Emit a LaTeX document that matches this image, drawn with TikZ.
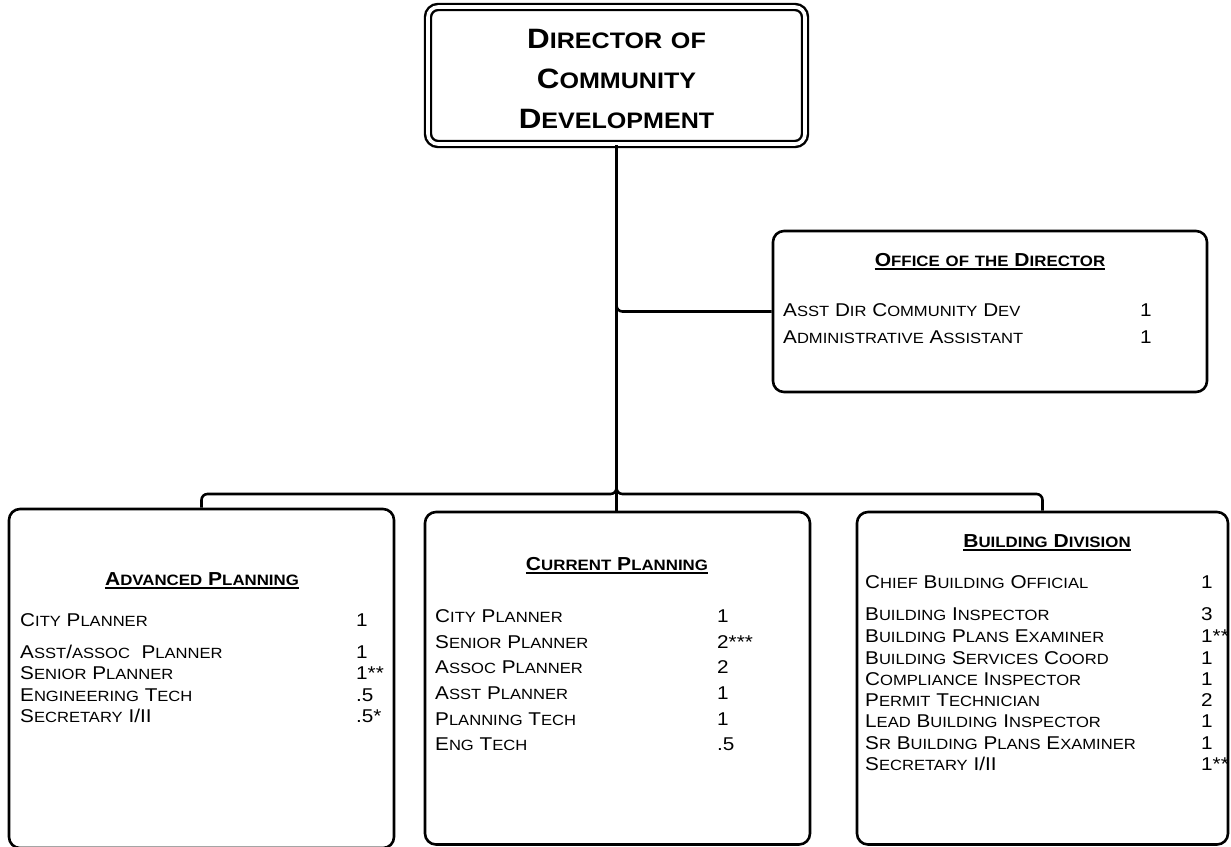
\documentclass[tikz,border=0pt]{standalone}
\usepackage{fontspec}
\setmainfont{Liberation Sans}[FakeStretch=1.12]
\usetikzlibrary{calc}

% Fake small capitals: capitals stay full size, lower-case letters are
% set as capitals at 80% of the current size.
\makeatletter
\newcommand\scsize{\fontsize{\the\dimexpr\f@size pt*4/5\relax}{\f@baselineskip}\selectfont}
\newcommand\scx[1]{\scx@word#1 \@nil}
\def\scx@word#1 #2\@nil{\scx@chars#1\scx@end\ifx\relax#2\relax\else\space\scx@word#2\@nil\fi}
\def\scx@chars#1{\ifx#1\scx@end\else\scx@one#1\expandafter\scx@chars\fi}
\def\scx@one#1{\ifnum\lccode`#1=`#1\relax{\scsize\uppercase{#1}}\else#1\fi}
\def\scx@end{\scx@end}
\makeatother

\newcommand\bodyfont{\fontsize{18.5}{21}\selectfont}
\newcommand\headfont{\fontsize{18.8}{21}\selectfont\bfseries}
\newcommand\titlefont{\fontsize{28}{40}\selectfont\bfseries}

\begin{document}
\begin{tikzpicture}[x=1pt,y=-1pt,
  conn/.style={line width=2.6pt, rounded corners=6pt},
  box/.style={draw, line width=2.6pt, rounded corners=11pt, inner sep=0pt},
  dbox/.style={draw, double, double distance=3.6pt, line width=2.4pt, rounded corners=10pt, inner sep=0pt},
  txt/.style={anchor=base west, inner sep=0pt, font=\bodyfont},
  head/.style={anchor=base, inner sep=0pt, font=\headfont},
  title/.style={anchor=base, inner sep=0pt, font=\titlefont},
  uline/.style={line width=1.3pt},
]
\useasboundingbox (0,0) rectangle (1231,846);

% ---- director ----
\node[title] (t1) at (616.5,48.3) {\scx{Director of}};
\node[title] (t2) at (616.5,88.3) {\scx{Community}};
\node[title] (t3) at (616.5,128.3) {\scx{Development}};

% ---- office of the director ----
\node[head] (oh) at (990,266) {\scx{Office of the Director}};
\draw[uline] ([yshift=-3pt]oh.base west) -- ([yshift=-3pt]oh.base east);
\node[txt] (o1) at (783,316.5) {\scx{Asst Dir Community Dev}};
\node[txt] (o1n) at (1140,316.5) {1};
\node[txt] (o2) at (783,343.5) {\scx{Administrative Assistant}};
\node[txt] (o2n) at (1140,343.5) {1};

% ---- advanced planning ----
\node[head] (ah) at (202,585) {\scx{Advanced Planning}};
\draw[uline] ([yshift=-3pt]ah.base west) -- ([yshift=-3pt]ah.base east);
\node[txt] (a1) at (20,626) {\scx{City Planner}};
\node[txt] (a1n) at (356,626) {1};
\node[txt] (a2) at (20,658) {\scx{Asst/assoc}\ \ \scx{Planner}};
\node[txt] (a2n) at (356,658) {1};
\node[txt] (a3) at (20,679) {\scx{Senior Planner}};
\node[txt] (a3n) at (356,679) {1**};
\node[txt] (a4) at (20,701) {\scx{Engineering Tech}};
\node[txt] (a4n) at (356,701) {.5};
\node[txt] (a5) at (20,722.5) {\scx{Secretary I/II}};
\node[txt] (a5n) at (356,722.5) {.5*};

% ---- current planning ----
\node[head] (ch) at (617,570) {\scx{Current Planning}};
\draw[uline] ([yshift=-3pt]ch.base west) -- ([yshift=-3pt]ch.base east);
\node[txt] (c1) at (435,622.5) {\scx{City Planner}};
\node[txt] (c1n) at (717,622.5) {1};
\node[txt] (c2) at (435,648) {\scx{Senior Planner}};
\node[txt] (c2n) at (717,648) {2***};
\node[txt] (c3) at (435,673.5) {\scx{Assoc Planner}};
\node[txt] (c3n) at (717,673.5) {2};
\node[txt] (c4) at (435,699) {\scx{Asst Planner}};
\node[txt] (c4n) at (717,699) {1};
\node[txt] (c5) at (435,725) {\scx{Planning Tech}};
\node[txt] (c5n) at (717,725) {1};
\node[txt] (c6) at (435,750) {\scx{Eng Tech}};
\node[txt] (c6n) at (717,750) {.5};

% ---- building division ----
\node[head] (bh) at (1047,547) {\scx{Building Division}};
\draw[uline] ([yshift=-3pt]bh.base west) -- ([yshift=-3pt]bh.base east);
\node[txt] (b1) at (865,588) {\scx{Chief Building Official}};
\node[txt] (b1n) at (1201,588) {1};
\node[txt] (b2) at (865,620.5) {\scx{Building Inspector}};
\node[txt] (b2n) at (1201,620.5) {3};
\node[txt] (b3) at (865,642.5) {\scx{Building Plans Examiner}};
\node[txt] (b3n) at (1201,642.5) {1**};
\node[txt] (b4) at (865,664) {\scx{Building Services Coord}};
\node[txt] (b4n) at (1201,664) {1};
\node[txt] (b5) at (865,685) {\scx{Compliance Inspector}};
\node[txt] (b5n) at (1201,685) {1};
\node[txt] (b6) at (865,706) {\scx{Permit Technician}};
\node[txt] (b6n) at (1201,706) {2};
\node[txt] (b7) at (865,727.5) {\scx{Lead Building Inspector}};
\node[txt] (b7n) at (1201,727.5) {1};
\node[txt] (b8) at (865,749) {\scx{Sr Building Plans Examiner}};
\node[txt] (b8n) at (1201,749) {1};
\node[txt] (b9) at (865,770) {\scx{Secretary I/II}};
\node[txt] (b9n) at (1201,770) {1**};

% ---- boxes (drawn over the text, so the borders cover any overhang) ----
\node[dbox, minimum width=377pt, minimum height=137pt] (dir) at (616.5,75.5) {};
\node[box, minimum width=434pt, minimum height=161pt] (office) at (990,311.5) {};
\node[box, minimum width=385pt, minimum height=339pt] (adv) at (201.5,678.5) {};
\node[box, minimum width=385pt, minimum height=332.5pt] (cur) at (617.5,678.25) {};
\node[box, minimum width=371pt, minimum height=332.5pt] (bld) at (1042.5,678.25) {};

% ---- connectors ----
\coordinate (bus) at (616.5,494);
\draw[conn] (dir.south) -- (dir.south |- cur.north);
\draw[conn] (dir.south) |- (office.west);
\draw[conn] (dir.south) |- (bus -| adv.north) -- (adv.north);
\draw[conn] (dir.south) |- (bus -| bld.north) -- (bld.north);
\end{tikzpicture}
\end{document}
